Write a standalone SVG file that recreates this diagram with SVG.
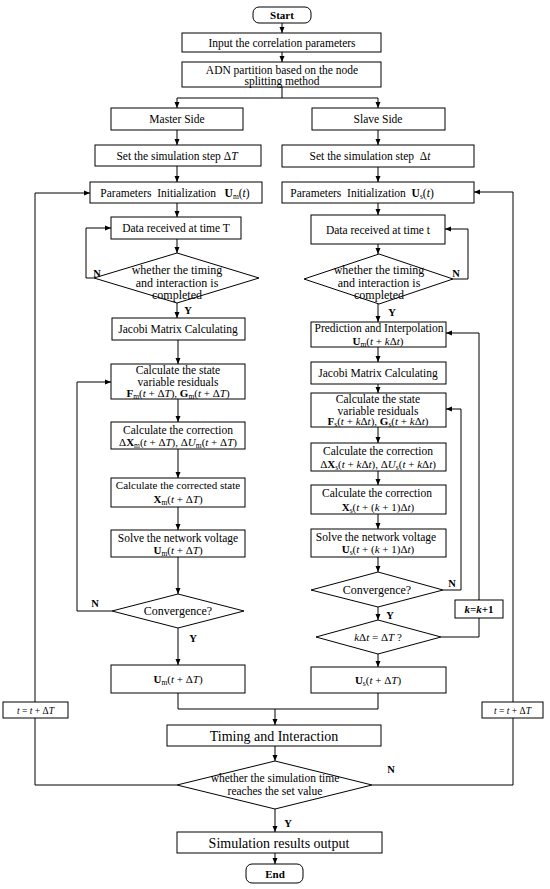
<svg xmlns="http://www.w3.org/2000/svg" width="550" height="889" viewBox="0 0 550 889">
<defs>
<marker id="ar" markerWidth="6" markerHeight="6" refX="6" refY="3" orient="auto" markerUnits="userSpaceOnUse">
<path d="M0,0.5 L6,3 L0,5.5 z" fill="#000"/>
</marker>
<style>
.box{fill:#fff;stroke:#000;stroke-width:1}
.c{fill:none;stroke:#000;stroke-width:1}
.a{fill:none;stroke:#000;stroke-width:1;marker-end:url(#ar)}
text{font-family:"Liberation Serif","Times New Roman",serif;font-size:11.5px;text-anchor:middle;fill:#000}
.big{font-size:14px}
.d{font-size:12px}
.f{font-size:11px}
.sm{font-size:9.5px}
.b{font-weight:bold}
.i{font-style:italic}
.s{font-size:7.5px}
.lbl{font-weight:bold;font-size:10.5px}
</style>
</defs>
<rect width="550" height="889" fill="#fff"/>

<g id="connectors">
<path class="a" d="M282,23 V33"/>
<path class="a" d="M282,52 V62"/>
<path class="c" d="M282,87 V98"/>
<path class="a" d="M282,98 H177 V108"/>
<path class="a" d="M282,98 H378 V108"/>
<!-- master -->
<path class="a" d="M177,130 V145"/>
<path class="a" d="M177,166 V182"/>
<path class="a" d="M177,203 V217"/>
<path class="a" d="M177,239 V253"/>
<path class="a" d="M177,303 V318"/>
<path class="a" d="M178,340 V364"/>
<path class="a" d="M178,399 V422"/>
<path class="a" d="M178,449 V478"/>
<path class="a" d="M178,507 V530"/>
<path class="a" d="M178,557 V594"/>
<path class="a" d="M178,628 V665"/>
<path class="a" d="M94,278 H86 V228 H111"/>
<path class="a" d="M112,611 H77 V382 H111"/>
<!-- slave -->
<path class="a" d="M378,130 V145"/>
<path class="a" d="M378,167 V182"/>
<path class="a" d="M378,203 V215"/>
<path class="a" d="M378,244 V254"/>
<path class="a" d="M378,304 V322"/>
<path class="a" d="M378,347 V362"/>
<path class="a" d="M378,384 V393"/>
<path class="a" d="M378,427 V443"/>
<path class="a" d="M378,471 V485"/>
<path class="a" d="M378,514 V529"/>
<path class="a" d="M378,557 V572"/>
<path class="a" d="M378,607 V620"/>
<path class="a" d="M378,654 V667"/>
<path class="a" d="M453,279 H468 V229 H445"/>
<path class="a" d="M443,590 H461 V409 H446"/>
<path class="c" d="M441,637 H479 V618"/>
<path class="a" d="M479,600 V333 H446"/>
<!-- merge -->
<path class="c" d="M178,693 V709 H378 V693"/>
<path class="a" d="M275,709 V725"/>
<path class="a" d="M275,746 V761"/>
<path class="a" d="M275,809 V832"/>
<path class="a" d="M275,853 V864"/>
<!-- outer loops -->
<path class="c" d="M177,785 H35 V718"/>
<path class="a" d="M35,702 V193 H90"/>
<path class="c" d="M372,785 H513 V718"/>
<path class="a" d="M513,702 V192 H474"/>
</g>

<g id="start"><rect class="box" x="253" y="7" width="58" height="16" rx="6"/><text class="b" x="282" y="19" style="font-size:11px">Start</text></g>
<g id="input"><rect class="box" x="182" y="33" width="199" height="19"/><text x="282" y="46.5">Input the correlation parameters</text></g>
<g id="adn"><rect class="box" x="182" y="62" width="199" height="25"/><text x="282" y="73.5">ADN partition based on the node</text><text x="282" y="85">splitting method</text></g>

<g id="master-side"><rect class="box" x="111" y="108" width="132" height="22"/><text x="177" y="123">Master Side</text></g>
<g id="m-step"><rect class="box" x="95" y="145" width="166" height="21"/><text x="177" y="159.5">Set the simulation step Δ<tspan class="i">T</tspan></text></g>
<g id="m-init"><rect class="box" x="90" y="182" width="172" height="21"/><text x="175" y="196.5" xml:space="preserve">Parameters  Initialization   <tspan class="b">U</tspan><tspan class="s" dy="2">m</tspan><tspan dy="-2">(</tspan><tspan class="i">t</tspan>)</text></g>
<g id="m-data"><rect class="box" x="111" y="217" width="130" height="22"/><text x="176" y="232">Data received at time T</text></g>
<g id="m-check"><polygon class="box" points="177,253 259,278 177,303 94,278"/><text class="d" x="177" y="274">whether the timing</text><text class="d" x="177" y="286.5">and interaction is</text><text class="d" x="177" y="299">completed</text></g>
<g id="m-jacobi"><rect class="box" x="112" y="318" width="133" height="22"/><text x="178" y="333">Jacobi Matrix Calculating</text></g>
<g id="m-resid"><rect class="box" x="111" y="364" width="134" height="35"/><text x="178" y="374">Calculate the state</text><text x="178" y="386">variable residuals</text><text class="f" x="178" y="397"><tspan class="b">F</tspan><tspan class="s" dy="2">m</tspan><tspan dy="-2">(</tspan><tspan class="i">t</tspan> + Δ<tspan class="i">T</tspan>), <tspan class="b">G</tspan><tspan class="s" dy="2">m</tspan><tspan dy="-2">(</tspan><tspan class="i">t</tspan> + Δ<tspan class="i">T</tspan>)</text></g>
<g id="m-corr"><rect class="box" x="111" y="422" width="134" height="27"/><text x="178" y="434">Calculate the correction</text><text class="f" x="178" y="446">Δ<tspan class="b">X</tspan><tspan class="s" dy="2">m</tspan><tspan dy="-2">(</tspan><tspan class="i">t</tspan> + Δ<tspan class="i">T</tspan>), Δ<tspan class="i">U</tspan><tspan class="s" dy="2">m</tspan><tspan dy="-2">(</tspan><tspan class="i">t</tspan> + Δ<tspan class="i">T</tspan>)</text></g>
<g id="m-state"><rect class="box" x="111" y="478" width="134" height="29"/><text class="f" x="178" y="489">Calculate the corrected state</text><text class="f" x="178" y="503"><tspan class="b">X</tspan><tspan class="s" dy="2">m</tspan><tspan dy="-2">(</tspan><tspan class="i">t</tspan> + Δ<tspan class="i">T</tspan>)</text></g>
<g id="m-solve"><rect class="box" x="111" y="530" width="134" height="27"/><text x="178" y="542">Solve the network voltage</text><text class="f" x="178" y="554"><tspan class="b">U</tspan><tspan class="s" dy="2">m</tspan><tspan dy="-2">(</tspan><tspan class="i">t</tspan> + Δ<tspan class="i">T</tspan>)</text></g>
<g id="m-conv"><polygon class="box" points="178,594 244,611 178,628 112,611"/><text class="d" x="178" y="615">Convergence?</text></g>
<g id="m-out"><rect class="box" x="111" y="665" width="134" height="28"/><text class="f" x="178" y="683"><tspan class="b">U</tspan><tspan class="s" dy="2">m</tspan><tspan dy="-2">(</tspan><tspan class="i">t</tspan> + Δ<tspan class="i">T</tspan>)</text></g>
<g id="m-tstep"><rect class="box" x="3" y="702" width="65" height="16"/><text class="sm" x="35.5" y="713.5"><tspan class="i">t</tspan> = <tspan class="i">t</tspan> + Δ<tspan class="i">T</tspan></text></g>

<g id="slave-side"><rect class="box" x="312" y="108" width="133" height="22"/><text x="378" y="123">Slave Side</text></g>
<g id="s-step"><rect class="box" x="282" y="145" width="192" height="22"/><text x="370" y="159.5" xml:space="preserve">Set the simulation step  Δ<tspan class="i">t</tspan></text></g>
<g id="s-init"><rect class="box" x="282" y="182" width="192" height="21"/><text x="362" y="196.5" xml:space="preserve">Parameters  Initialization  <tspan class="b">U</tspan><tspan class="s" dy="2">s</tspan><tspan dy="-2">(</tspan><tspan class="i">t</tspan>)</text></g>
<g id="s-data"><rect class="box" x="311" y="215" width="134" height="29"/><text x="378" y="233.5">Data received at time t</text></g>
<g id="s-check"><polygon class="box" points="379,254 453,279 379,304 304,279"/><text class="d" x="379" y="274">whether the timing</text><text class="d" x="379" y="286.5">and interaction is</text><text class="d" x="379" y="299">completed</text></g>
<g id="s-pred"><rect class="box" x="311" y="322" width="135" height="25"/><text x="379" y="331.5">Prediction and Interpolation</text><text class="f" x="378" y="344.5"><tspan class="b">U</tspan><tspan class="s" dy="2">m</tspan><tspan dy="-2">(</tspan><tspan class="i">t</tspan> + <tspan class="i">k</tspan>Δ<tspan class="i">t</tspan>)</text></g>
<g id="s-jacobi"><rect class="box" x="311" y="362" width="135" height="22"/><text x="378" y="377">Jacobi Matrix Calculating</text></g>
<g id="s-resid"><rect class="box" x="311" y="393" width="135" height="34"/><text x="378" y="403">Calculate the state</text><text x="378" y="414.5">variable residuals</text><text class="f" x="378" y="425"><tspan class="b">F</tspan><tspan class="s" dy="2">s</tspan><tspan dy="-2">(</tspan><tspan class="i">t</tspan> + <tspan class="i">k</tspan>Δ<tspan class="i">t</tspan>), <tspan class="b">G</tspan><tspan class="s" dy="2">s</tspan><tspan dy="-2">(</tspan><tspan class="i">t</tspan> + <tspan class="i">k</tspan>Δ<tspan class="i">t</tspan>)</text></g>
<g id="s-corr"><rect class="box" x="311" y="443" width="135" height="28"/><text x="378" y="455">Calculate the correction</text><text class="f" x="378" y="468">Δ<tspan class="b">X</tspan><tspan class="s" dy="2">s</tspan><tspan dy="-2">(</tspan><tspan class="i">t</tspan> + <tspan class="i">k</tspan>Δ<tspan class="i">t</tspan>), Δ<tspan class="i">U</tspan><tspan class="s" dy="2">s</tspan><tspan dy="-2">(</tspan><tspan class="i">t</tspan> + <tspan class="i">k</tspan>Δ<tspan class="i">t</tspan>)</text></g>
<g id="s-corrx"><rect class="box" x="311" y="485" width="135" height="29"/><text x="377" y="496.5">Calculate the correction</text><text class="f" x="378" y="511"><tspan class="b">X</tspan><tspan class="s" dy="2">s</tspan><tspan dy="-2">(</tspan><tspan class="i">t</tspan> + (<tspan class="i">k</tspan> + 1)Δ<tspan class="i">t</tspan>)</text></g>
<g id="s-solve"><rect class="box" x="311" y="529" width="135" height="28"/><text x="376" y="540.5">Solve the network voltage</text><text class="f" x="378" y="553"><tspan class="b">U</tspan><tspan class="s" dy="2">s</tspan><tspan dy="-2">(</tspan><tspan class="i">t</tspan> + (<tspan class="i">k</tspan> + 1)Δ<tspan class="i">t</tspan>)</text></g>
<g id="s-conv"><polygon class="box" points="378,572 443,590 378,607 311,590"/><text class="d" x="377" y="594">Convergence?</text></g>
<g id="s-kcheck"><polygon class="box" points="378,620 441,637 378,654 316,637"/><text class="f" x="378" y="641"><tspan class="i">k</tspan>Δ<tspan class="i">t</tspan> = Δ<tspan class="i">T</tspan> ?</text></g>
<g id="s-kinc"><rect class="box" x="455" y="600" width="48" height="18"/><text class="b" x="479" y="613" style="font-size:11px"><tspan class="i">k</tspan>=<tspan class="i">k</tspan>+1</text></g>
<g id="s-out"><rect class="box" x="311" y="667" width="135" height="26"/><text class="f" x="378" y="684"><tspan class="b">U</tspan><tspan class="s" dy="2">s</tspan><tspan dy="-2">(</tspan><tspan class="i">t</tspan> + Δ<tspan class="i">T</tspan>)</text></g>
<g id="s-tstep"><rect class="box" x="482" y="702" width="61" height="16"/><text class="sm" x="512.5" y="713.5"><tspan class="i">t</tspan> = <tspan class="i">t</tspan> + Δ<tspan class="i">T</tspan></text></g>

<g id="timing"><rect class="box" x="167" y="725" width="214" height="21"/><text class="big" x="274" y="740.5">Timing and Interaction</text></g>
<g id="sim-check"><polygon class="box" points="275,761 372,785 275,809 177,785"/><text x="275" y="782">whether the simulation time</text><text x="275" y="795">reaches the set value</text></g>
<g id="output"><rect class="box" x="177" y="832" width="205" height="21"/><text class="big" x="279" y="847.5">Simulation results output</text></g>
<g id="end"><rect class="box" x="246" y="864" width="57" height="19" rx="6"/><text class="b" x="275" y="877.5" style="font-size:11px">End</text></g>

<g id="labels">
<text class="lbl" x="97" y="277">N</text>
<text class="lbl" x="188" y="314">Y</text>
<text class="lbl" x="456" y="277">N</text>
<text class="lbl" x="392" y="316">Y</text>
<text class="lbl" x="95" y="607">N</text>
<text class="lbl" x="193" y="642">Y</text>
<text class="lbl" x="452" y="587">N</text>
<text class="lbl" x="390" y="619">Y</text>
<text class="lbl" x="391" y="773">N</text>
<text class="lbl" x="288" y="827">Y</text>
</g>
</svg>
